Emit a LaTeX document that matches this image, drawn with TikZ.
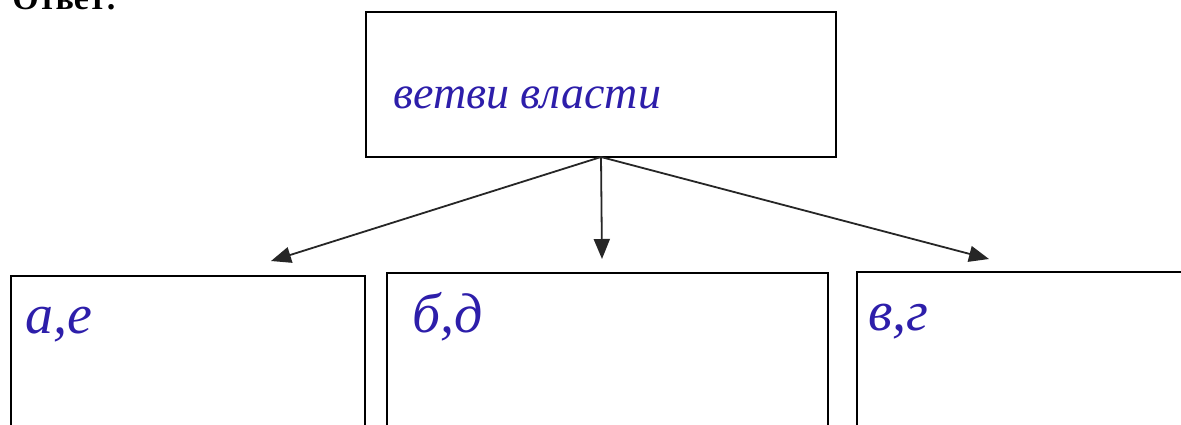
\documentclass[tikz,border=0pt]{standalone}
\usepackage{fontspec}
\setmainfont{Liberation Serif}
\usetikzlibrary{arrows.meta}
\definecolor{ink}{RGB}{45,30,170}
\begin{document}
\begin{tikzpicture}[x=0.5pt,y=-0.5pt,
  box/.style={draw,line width=0.9pt,inner sep=0pt,outer sep=0pt,anchor=north west},
  hand/.style={text=ink,font=\fontsize{#1}{#1}\selectfont\itshape,inner sep=0pt,anchor=base west},
  conn/.style={line width=0.9pt,draw=black!85,-{Triangle[length=10pt,width=8pt]}}]
\clip (0,0) rectangle (1181,424);
\fill[white] (0,0) rectangle (1181,424);
% heading
\node[font=\fontsize{17}{17}\selectfont\bfseries,inner sep=0pt,anchor=base west] (head) at (12,9) {Ответ:};
% boxes
\node[box,minimum width=235pt,minimum height=72.5pt] (top) at (366,12) {};
\node[box,minimum width=177pt,minimum height=92pt] (left) at (11,276) {};
\node[box,minimum width=220.5pt,minimum height=92pt] (mid) at (387,273) {};
\node[box,minimum width=175pt,minimum height=92pt] (right) at (857,272) {};
% texts
\node[hand=23] (ttop) at (393,108) {ветви власти};
\node[hand=28] (tleft) at (25,333) {а,е};
\node[hand=28] (tmid) at (412,332) {б,д};
\node[hand=28] (tright) at (868,330) {в,г};
% connectors
\coordinate (eL) at (271,261);
\coordinate (eM) at (602,259);
\coordinate (eR) at (989,259);
\draw[conn] (top.south) -- (eL);
\draw[conn] (top.south) -- (eM);
\draw[conn] (top.south) -- (eR);
\end{tikzpicture}
\end{document}
